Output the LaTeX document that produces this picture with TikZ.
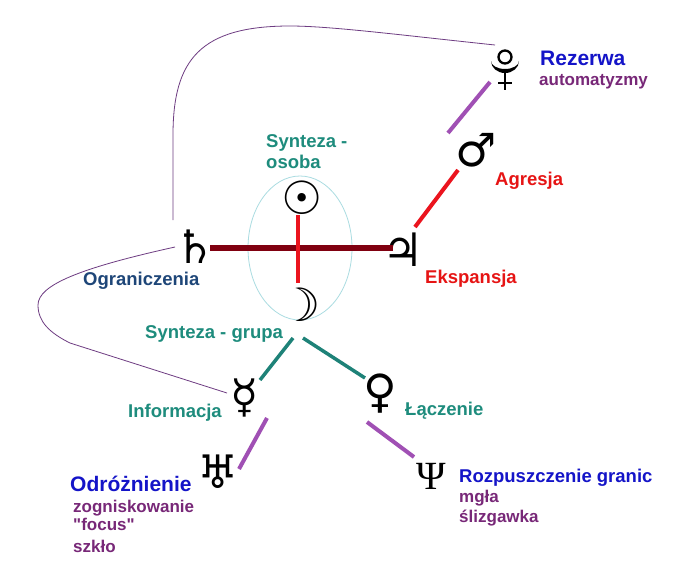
\documentclass[tikz,border=0pt]{standalone}
\usepackage{fontspec}
\setmainfont{Liberation Sans}[Ligatures=TeXOff]
\newfontfamily\astrofont{DejaVu Sans}
\newfontfamily\greekfont{Liberation Serif}
\usetikzlibrary{positioning, shapes.geometric}

\definecolor{tealtxt}{RGB}{30,140,125}
\definecolor{navytxt}{RGB}{30,70,120}
\definecolor{bluetxt}{RGB}{20,20,200}
\definecolor{purpletxt}{RGB}{120,40,120}
\definecolor{redtxt}{RGB}{230,20,20}
\definecolor{purpleline}{RGB}{160,80,180}
\definecolor{darkredline}{RGB}{128,0,16}
\definecolor{redline}{RGB}{235,20,30}
\definecolor{tealline}{RGB}{30,130,120}
\definecolor{thinline}{RGB}{110,60,130}
\definecolor{ringline}{RGB}{170,220,225}

\tikzset{
	planet/.style={font=\astrofont\bfseries\fontsize{46}{46}\selectfont, inner sep=0pt},
	heading/.style={font=\bfseries\fontsize{21}{24}\selectfont, text=bluetxt, anchor=base west, inner sep=0pt},
	lbl/.style={font=\bfseries\fontsize{18.5}{21}\selectfont, anchor=base west, inner sep=0pt},
	sublbl/.style={font=\bfseries\fontsize{17}{20}\selectfont, text=purpletxt, anchor=base west, inner sep=0pt},
	purplelink/.style={draw=purpleline, line width=4pt},
	redlink/.style={draw=redline, line width=4pt},
	teallink/.style={draw=tealline, line width=3.5pt},
	axislink/.style={draw=darkredline, line width=6pt},
	backlink/.style={draw=thinline, line width=0.8pt}
}

\begin{document}
\begin{tikzpicture}[x=1pt, y=-1pt]
	\useasboundingbox[fill=white] (0,0) rectangle (700,563);
	% ring round sun and moon
	\node[draw=ringline, line width=0.8pt, ellipse, minimum width=104pt, minimum height=144pt, inner sep=0pt] (ring) at (300,248) {};
	% planets
	\node[minimum size=40pt, inner sep=0pt] (pluto) at (505,68) {};
	\draw[line width=2.3pt] ([shift={(0,-11)}]pluto.center) circle (6.5);
	\fill ([shift={(-14,-7)}]pluto.center) arc[start angle=180, end angle=0, x radius=14, y radius=12]
		arc[start angle=0, end angle=180, x radius=14, y radius=8];
	\draw[line width=2.3pt] ([shift={(0,4)}]pluto.center) -- ([shift={(0,22)}]pluto.center);
	\draw[line width=2.3pt] ([shift={(-7,15)}]pluto.center) -- ([shift={(7,15)}]pluto.center);
	\node[planet] (mars) at (476,150) {♂};
	\node[planet] (sun) at (302,198) {☉};
	\node[planet] (saturn) at (195,247) {♄};
	\node[planet] (jupiter) at (403,250) {♃};
	\node[planet] (moon) at (300,305) {☽};
	\node[planet] (mercury) at (245,398) {☿};
	\node[planet] (venus) at (380,394) {♀};
	\node[planet] (uranus) at (218,472) {♅};
	\node[planet, font=\greekfont\fontsize{40}{40}\selectfont] (neptune) at (431,476) {Ψ};
	% links
	\draw[purplelink] ([shift={(-15,14)}]pluto.center) -- ([shift={(-28,-17)}]mars.center);
	\draw[redlink] ([shift={(-18,20)}]mars.center) -- ([shift={(12,-23)}]jupiter.center);
	\draw[axislink] ([shift={(15,1)}]saturn.center) -- ([shift={(-10,-2)}]jupiter.center);
	\draw[redlink] ([shift={(-4,17)}]sun.center) -- ([shift={(-2,-22)}]moon.center);
	\draw[teallink] ([shift={(-7,33)}]moon.center) -- ([shift={(15,-18)}]mercury.center);
	\draw[teallink] ([shift={(3,33)}]moon.center) -- ([shift={(-15,-16)}]venus.center);
	\draw[purplelink] ([shift={(22,20)}]mercury.center) -- ([shift={(21,-3)}]uranus.center);
	\draw[purplelink] ([shift={(-13,28)}]venus.center) -- ([shift={(-17,-19)}]neptune.center);
	% thin back links
	\draw[backlink] ([shift={(-10,-23)}]pluto.center) .. controls (400,35) and (330,26) .. (290,26)
		.. controls (200,26) and (173,60) .. (173,135) -- ([shift={(-22,-27)}]saturn.center);
	\draw[backlink] ([shift={(-20,0)}]saturn.center) .. controls (80,268) and (38,285) .. (38,305)
		.. controls (38,322) and (50,333) .. (70,343) -- ([shift={(-18,-5)}]mercury.center);
	% labels
	\node[heading] (rezerwa) at (540,65) {Rezerwa};
	\node[sublbl] (automat) at (539,85) {automatyzmy};
	\node[lbl, text=redtxt] (agresja) at (495,185) {Agresja};
	\node[lbl, text=tealtxt] (synteza) at (266,147) {Synteza -};
	\node[lbl, text=tealtxt] (osoba) at (266,168) {osoba};
	\node[lbl, text=navytxt] (ogranicz) at (83,285) {Ograniczenia};
	\node[lbl, text=redtxt] (ekspansja) at (425,283) {Ekspansja};
	\node[lbl, text=tealtxt] (grupa) at (145,338) {Synteza - grupa};
	\node[lbl, text=tealtxt] (informacja) at (128,417) {Informacja};
	\node[lbl, text=tealtxt] (laczenie) at (405,415) {Łączenie};
	\node[heading] (odroz) at (70,491) {Odróżnienie};
	\node[sublbl] (zognisk) at (73,512) {zogniskowanie};
	\node[sublbl] (focus) at (73,530) {"focus"};
	\node[sublbl] (szklo) at (73,552) {szkło};
	\node[heading, font=\bfseries\fontsize{18.5}{21}\selectfont] (rozpusz) at (459,482) {Rozpuszczenie granic};
	\node[sublbl] (mgla) at (459,502) {mgła};
	\node[sublbl] (slizg) at (459,522) {ślizgawka};
\end{tikzpicture}
\end{document}
